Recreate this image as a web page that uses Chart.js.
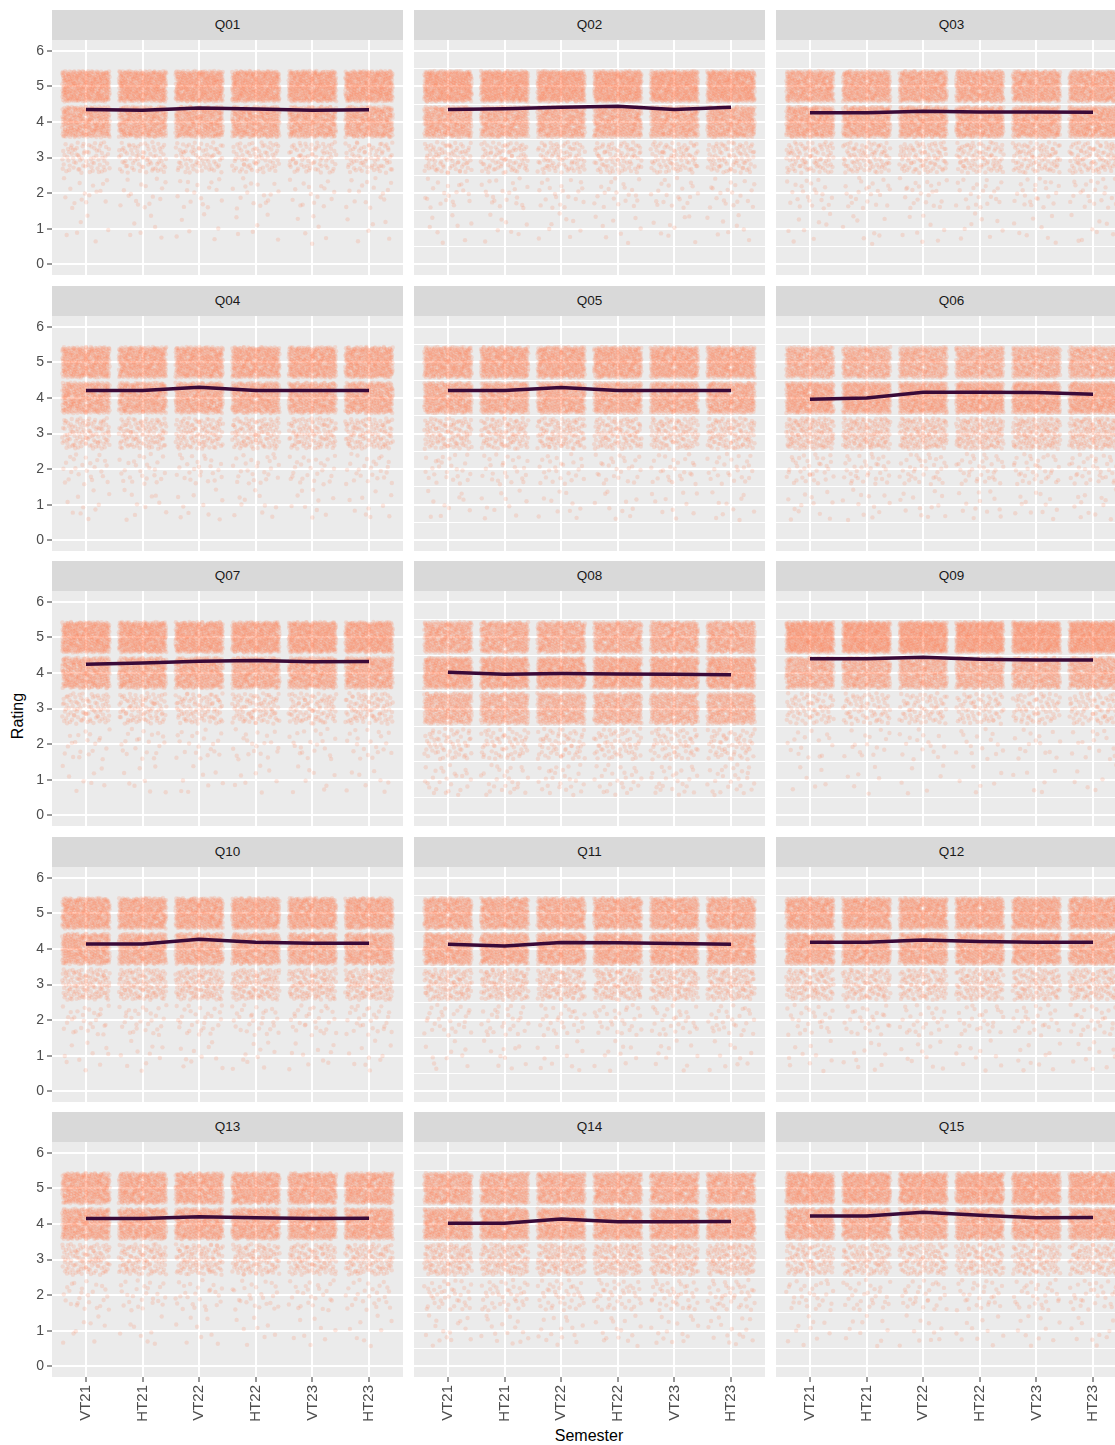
<!DOCTYPE html>
<html>
<head>
<meta charset="utf-8">
<script src="https://cdn.jsdelivr.net/npm/chart.js@4.4.1/dist/chart.umd.min.js"></script>
<style>
  html, body { margin: 0; padding: 0; background: #fff; overflow: hidden; }
  body { width: 1115px; height: 1445px; position: relative; font-family: "Liberation Sans", Arial, sans-serif; }
  .strip { position: absolute; height: 30px; background: #D9D9D9; color: #1A1A1A;
           font-size: 13.5px; line-height: 30px; text-align: center; }
  canvas { position: absolute; }
  .axis-title { position: absolute; font-size: 16px; color: #000; white-space: nowrap; }
  .ylab { left: 18px; top: 716px; transform: translate(-50%, -50%) rotate(-90deg); }
  .xlab { left: 589px; top: 1436px; transform: translate(-50%, -50%); }
</style>
</head>
<body>
<div class="axis-title ylab">Rating</div>
<div class="axis-title xlab">Semester</div>
<script>
// ── data ─────────────────────────────────────────────────────────────────
const SEMESTERS = ['VT21', 'HT21', 'VT22', 'HT22', 'VT23', 'HT23'];
const QUESTIONS = ['Q01', 'Q02', 'Q03', 'Q04', 'Q05', 'Q06', 'Q07', 'Q08',
                   'Q09', 'Q10', 'Q11', 'Q12', 'Q13', 'Q14', 'Q15'];
const RATINGS = [1, 2, 3, 4, 5];
const Y_TICKS = [0, 1, 2, 3, 4, 5, 6];

// mean rating per semester (the dark line)
const Q01_MEAN = [4.35, 4.33, 4.39, 4.36, 4.33, 4.34];
const Q02_MEAN = [4.35, 4.37, 4.41, 4.44, 4.35, 4.41];
const Q03_MEAN = [4.26, 4.26, 4.30, 4.28, 4.28, 4.27];
const Q04_MEAN = [4.21, 4.21, 4.30, 4.21, 4.21, 4.21];
const Q05_MEAN = [4.21, 4.21, 4.29, 4.21, 4.21, 4.21];
const Q06_MEAN = [3.96, 4.00, 4.16, 4.16, 4.15, 4.10];
const Q07_MEAN = [4.24, 4.28, 4.33, 4.35, 4.31, 4.32];
const Q08_MEAN = [4.02, 3.96, 3.98, 3.97, 3.96, 3.95];
const Q09_MEAN = [4.40, 4.40, 4.44, 4.38, 4.36, 4.36];
const Q10_MEAN = [4.14, 4.14, 4.27, 4.19, 4.16, 4.16];
const Q11_MEAN = [4.13, 4.08, 4.18, 4.17, 4.15, 4.13];
const Q12_MEAN = [4.19, 4.19, 4.25, 4.21, 4.19, 4.19];
const Q13_MEAN = [4.15, 4.15, 4.20, 4.17, 4.15, 4.16];
const Q14_MEAN = [4.02, 4.02, 4.14, 4.06, 4.06, 4.07];
const Q15_MEAN = [4.22, 4.22, 4.33, 4.24, 4.17, 4.18];

// approx. number of answers per rating 1..5 in each semester (point clouds)
const Q01_COUNTS = [6, 16, 75, 330, 400];
const Q02_COUNTS = [8, 20, 85, 320, 410];
const Q03_COUNTS = [8, 22, 90, 340, 360];
const Q04_COUNTS = [10, 25, 110, 330, 360];
const Q05_COUNTS = [10, 25, 110, 330, 360];
const Q06_COUNTS = [12, 35, 150, 360, 300];
const Q07_COUNTS = [8, 20, 90, 330, 390];
const Q08_COUNTS = [25, 60, 280, 360, 330];
const Q09_COUNTS = [6, 15, 70, 300, 450];
const Q10_COUNTS = [10, 28, 130, 330, 360];
const Q11_COUNTS = [10, 28, 120, 340, 340];
const Q12_COUNTS = [10, 25, 110, 340, 360];
const Q13_COUNTS = [8, 25, 110, 340, 350];
const Q14_COUNTS = [15, 40, 130, 340, 330];
const Q15_COUNTS = [10, 28, 100, 330, 370];

const MEANS = [Q01_MEAN, Q02_MEAN, Q03_MEAN, Q04_MEAN, Q05_MEAN, Q06_MEAN, Q07_MEAN, Q08_MEAN,
               Q09_MEAN, Q10_MEAN, Q11_MEAN, Q12_MEAN, Q13_MEAN, Q14_MEAN, Q15_MEAN];
const COUNTS = [Q01_COUNTS, Q02_COUNTS, Q03_COUNTS, Q04_COUNTS, Q05_COUNTS, Q06_COUNTS, Q07_COUNTS, Q08_COUNTS,
                Q09_COUNTS, Q10_COUNTS, Q11_COUNTS, Q12_COUNTS, Q13_COUNTS, Q14_COUNTS, Q15_COUNTS];

// ── layout (facet grid, 3 columns; the right one runs past the window) ──
const COL_X = [52, 414, 776];
const ROW_Y = [40, 315.5, 591, 866.5, 1142];
const PANEL_W = 351;
const PANEL_H = 235;
const X_AXIS_H = 48;
const FONT = '"Liberation Sans", Arial, sans-serif';
const JITTER_X = 0.42;
const JITTER_Y = 0.43;

// leaped halton sequence for the jitter offsets (spreads points evenly)
function halton(i, base) {
    let f = 1, r = 0;
    while (i > 0) { f /= base; r += f * (i % base); i = Math.floor(i / base); }
    return r;
}

let seq = 1;
function jitterCloud(counts) {
    const pts = [];
    SEMESTERS.forEach((_, si) => {
        RATINGS.forEach((rating, ri) => {
            for (let k = 0; k < counts[ri]; k++, seq++) {
                const n = seq * 7 + 3;
                pts.push({
                    x: si + (halton(n, 2) - 0.5) * 2 * JITTER_X,
                    y: rating + (halton(n, 3) - 0.5) * 2 * JITTER_Y,
                });
            }
        });
    });
    return pts;
}

const panelBg = {
    id: 'panelBg',
    beforeDraw(chart) {
        const { ctx, chartArea: a } = chart;
        ctx.save();
        ctx.fillStyle = '#EBEBEB';
        ctx.fillRect(a.left, a.top, a.right - a.left, a.bottom - a.top);
        ctx.restore();
    },
};

const yGridTicks = Y_TICKS.flatMap(v => (v < 6 ? [v, v + 0.5] : [v]));
const isMajor = v => Number.isInteger(v);

function makePanel(qi) {
    const col = qi % 3, row = Math.floor(qi / 3);
    const left = col === 0, bottom = row === 4;
    const px = COL_X[col], py = Math.round(ROW_Y[row]);

    const strip = document.createElement('div');
    strip.className = 'strip';
    strip.style.left = px + 'px';
    strip.style.top = (py - 30) + 'px';
    strip.style.width = PANEL_W + 'px';
    strip.textContent = QUESTIONS[qi];
    document.body.appendChild(strip);

    const canvas = document.createElement('canvas');
    const cx = left ? 0 : px;
    const w = PANEL_W + (left ? px : 0);
    const h = PANEL_H + (bottom ? X_AXIS_H : 0);
    canvas.width = w; canvas.height = h;
    canvas.style.left = cx + 'px'; canvas.style.top = py + 'px';
    canvas.style.width = w + 'px'; canvas.style.height = h + 'px';
    document.body.appendChild(canvas);

    new Chart(canvas, {
        type: 'scatter',
        data: {
            datasets: [
                {
                    data: SEMESTERS.map((_, i) => ({ x: i, y: MEANS[qi][i] })),
                    showLine: true,
                    borderColor: '#3A0A38',
                    borderWidth: 3.5,
                    pointRadius: 0,
                    tension: 0,
                    order: 0,
                },
                {
                    data: jitterCloud(COUNTS[qi]),
                    pointRadius: 2.2,
                    pointBorderWidth: 0,
                    backgroundColor: 'rgba(255,122,78,0.18)',
                    order: 1,
                },
            ],
        },
        options: {
            responsive: false,
            animation: false,
            events: [],
            layout: { padding: 0, autoPadding: false },
            plugins: { legend: { display: false }, tooltip: { enabled: false } },
            scales: {
                x: {
                    type: 'linear', min: -0.6, max: 5.6,
                    afterBuildTicks: s => { s.ticks = SEMESTERS.map((_, i) => ({ value: i })); },
                    afterFit: s => { s.height = bottom ? X_AXIS_H : 0; s.paddingLeft = 0; s.paddingRight = 0; },
                    border: { display: false },
                    grid: { color: '#fff', lineWidth: 2, drawTicks: bottom, tickLength: 5, tickColor: '#333', tickWidth: 1 },
                    ticks: {
                        display: bottom, autoSkip: false, minRotation: 90, maxRotation: 90, padding: 3,
                        color: '#4D4D4D', font: { size: 15, family: FONT },
                        callback: v => SEMESTERS[v],
                    },
                },
                y: {
                    type: 'linear', min: -0.3, max: 6.3,
                    afterBuildTicks: s => { s.ticks = yGridTicks.map(v => ({ value: v })); },
                    afterFit: s => { s.width = left ? px : 0; s.paddingTop = 0; s.paddingBottom = 0; },
                    border: { display: false },
                    grid: {
                        color: '#fff',
                        lineWidth: c => (isMajor(c.tick.value) ? 2 : 1),
                        drawTicks: left, tickLength: 5, tickWidth: 1,
                        tickColor: c => (isMajor(c.tick.value) ? '#333' : 'rgba(0,0,0,0)'),
                    },
                    ticks: {
                        display: left, padding: 3,
                        color: '#4D4D4D', font: { size: 14, family: FONT },
                        callback: v => (isMajor(v) ? String(v) : ''),
                    },
                },
            },
        },
        plugins: [panelBg],
    });
}

QUESTIONS.forEach((_, qi) => makePanel(qi));
</script>
</body>
</html>
